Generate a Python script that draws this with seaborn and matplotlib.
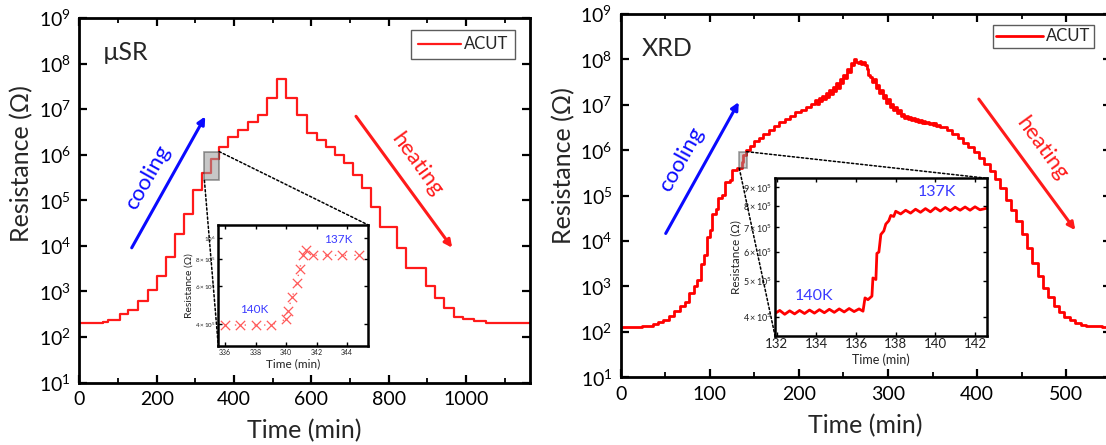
import numpy as np
import pandas as pd
import matplotlib
matplotlib.use("Agg")
import matplotlib.pyplot as plt
import seaborn as sns
from matplotlib.patches import Rectangle, ConnectionPatch
from matplotlib.ticker import (LogFormatterMathtext, MultipleLocator,
                               FixedLocator, FixedFormatter, NullLocator, NullFormatter)

# ---------------- data ----------------
# muSR panel: step levels (time in min where each level starts, resistance in Ohm)
musr_time = [0, 20, 40, 60, 75, 105, 127, 153, 177, 200, 223.5, 247.6, 271.7, 295, 318,
             340.5, 361.5, 385.6, 411, 435.6, 461, 485, 511, 535, 564, 588, 614, 638,
             661, 683, 707, 730, 754, 778, 821, 845, 897, 920, 943, 969, 993,
             1019, 1050, 1090, 1165]
musr_R = [200, 202, 207, 214, 234, 316, 400, 600, 1070, 2140, 5600, 1.82e4, 5.0e4, 1.7e5, 3.95e5,
          8.2e5, 1.5e6, 2.4e6, 3.5e6, 5.1e6, 7.6e6, 1.74e7, 4.5e7, 1.78e7, 7.6e6, 3.0e6, 2.14e6,
          1.48e6, 1.0e6, 6.6e5, 3.6e5, 1.86e5, 7.2e4, 2.6e4, 8.9e3, 3.2e3, 1.29e3, 710, 430, 280,
          245, 219, 204, 200, 200]

# muSR inset: individual points
musr_in_time = [336.0, 337.0, 338.0, 339.0, 340.0, 340.1, 340.4, 340.7, 340.9, 341.1, 341.3,
                341.8, 342.7, 343.7, 344.8]
musr_in_R = [3.95e5, 3.95e5, 3.95e5, 3.95e5, 4.2e5, 4.6e5, 5.3e5, 6.2e5, 7.2e5, 8.3e5, 8.8e5,
             8.3e5, 8.3e5, 8.3e5, 8.3e5]

# XRD panel: time (min) and log10 of resistance (Ohm)
xrd_time = [0, 10, 18, 24, 30, 36, 42, 48, 54, 60, 66, 72, 77, 82, 86, 90, 93, 97, 100, 103,
            107, 109, 114, 117, 123, 125, 130, 136.5, 137.2, 141, 145, 150, 155, 160, 166, 172,
            178, 184, 190, 196, 202, 208, 214,
            218, 220, 222, 224, 226, 228, 230, 232, 234, 236, 238, 240, 242, 244, 246, 248, 250,
            252, 254, 256, 258, 260, 262, 264, 266, 268, 270, 272, 274, 276, 278, 280, 282, 284,
            286, 288, 290, 292, 294, 296, 298, 300, 302, 304, 306, 308, 310, 312, 314, 316, 318,
            320, 322, 324, 326, 328, 330, 332, 334, 336, 338, 340, 342, 344, 346, 348, 350, 352,
            354, 356, 358, 360, 366, 372, 378, 384, 390, 396, 402, 408, 414,
            420, 426, 432, 438, 444, 450, 456, 462, 468, 474, 480, 486, 492, 498, 504, 510, 516,
            522, 530, 540, 550]
xrd_log10_R = [2.10, 2.10, 2.11, 2.12, 2.14, 2.17, 2.21, 2.27, 2.35, 2.45, 2.57, 2.66, 2.85, 3.00,
               3.15, 3.50, 3.70, 4.10, 4.25, 4.60, 4.70, 4.95, 5.02, 5.30, 5.35, 5.57, 5.60, 5.75,
               5.89, 6.00, 6.10, 6.20, 6.27, 6.35, 6.45, 6.53, 6.62, 6.68, 6.76, 6.84, 6.89, 6.95,
               7.02,
               7.10, 7.02, 7.14, 7.08, 7.20, 7.12, 7.26, 7.18, 7.33, 7.24, 7.40, 7.30, 7.48, 7.38,
               7.56, 7.48, 7.66, 7.58, 7.78, 7.72, 7.92, 7.88, 8.02, 7.95, 7.92, 7.96, 7.90, 7.94,
               7.88, 7.78, 7.66, 7.62, 7.50, 7.56, 7.38, 7.44, 7.26, 7.32, 7.15, 7.22, 7.04, 7.12,
               6.96, 7.02, 6.88, 6.95, 6.82, 6.88, 6.76, 6.80, 6.72, 6.75,
               6.68, 6.73, 6.66, 6.71, 6.64, 6.69, 6.62, 6.67, 6.61, 6.65, 6.60, 6.63, 6.58,
               6.61, 6.56, 6.59, 6.54, 6.56, 6.51, 6.52, 6.44, 6.36, 6.27, 6.17, 6.07, 5.96, 5.84,
               5.70, 5.55, 5.36, 5.17, 4.90, 4.68, 4.45, 4.16, 3.85, 3.52, 3.22, 2.96, 2.76, 2.58,
               2.43, 2.33, 2.26, 2.20, 2.16, 2.13, 2.12, 2.11, 2.11]

# XRD inset: time (min), resistance in units of 1e5 Ohm
xrd_in_time = [131.9, 132.15, 132.4, 132.65, 132.9, 133.15, 133.4, 133.65, 133.9, 134.15, 134.4,
               134.65, 134.9, 135.15, 135.4, 135.65, 135.9, 136.15, 136.35, 136.45, 136.6, 136.8,
               136.85, 137.0, 137.05, 137.15, 137.25, 137.4, 137.5, 137.65, 137.75, 137.9, 138.0,
               138.25, 138.5, 138.75, 139.0, 139.25, 139.5, 139.75, 140.0, 140.25, 140.5, 140.75,
               141.0, 141.25, 141.5, 141.75, 142.0, 142.25, 142.6]
xrd_in_R_1e5 = [4.08, 4.16, 4.06, 4.15, 4.07, 4.16, 4.08, 4.17, 4.09, 4.18, 4.10, 4.19, 4.11, 4.20,
                4.12, 4.21, 4.13, 4.20, 4.14, 4.50, 4.45, 4.55, 5.10, 5.05, 5.95, 6.00, 6.70, 6.85,
                7.15, 7.30, 7.55, 7.50, 7.75, 7.62, 7.80, 7.66, 7.85, 7.70, 7.88, 7.72, 7.92, 7.76,
                7.94, 7.78, 7.95, 7.80, 7.96, 7.80, 7.97, 7.82, 7.90]

main_yticks = [1e1, 1e2, 1e3, 1e4, 1e5, 1e6, 1e7, 1e8, 1e9]
musr_in_xticks = [336, 338, 340, 342, 344]
musr_in_yticks = [4e5, 6e5, 8e5, 1e6]
musr_in_ylabels = [r'$4\times10^{5}$', r'$6\times10^{5}$', r'$8\times10^{5}$', r'$10^{6}$']
xrd_in_xticks = [132, 134, 136, 138, 140, 142]
xrd_in_yticks = [4e5, 5e5, 6e5, 7e5, 8e5, 9e5]
xrd_in_ylabels = [r'$4\times10^{5}$', r'$5\times10^{5}$', r'$6\times10^{5}$',
                  r'$7\times10^{5}$', r'$8\times10^{5}$', r'$9\times10^{5}$']

# ---------------- style ----------------
sns.set_theme(style="white")
plt.rcParams['font.family'] = ['Lato', 'DejaVu Sans']
plt.rcParams['mathtext.fontset'] = 'custom'
plt.rcParams['mathtext.rm'] = 'Lato'
plt.rcParams['mathtext.it'] = 'Lato:italic'
plt.rcParams['mathtext.bf'] = 'Lato:bold'
plt.rcParams['axes.unicode_minus'] = False

RED = '#ff1a1a'
BLUE = '#0a0aff'
W, H = 1106, 445
fig = plt.figure(figsize=(W / 100, H / 100), dpi=100, facecolor='white')


def px_axes(x0, y0, x1, y1):
    return fig.add_axes([x0 / W, 1 - y1 / H, (x1 - x0) / W, (y1 - y0) / H])


def style_main(ax, xmax, xmajor, xminor, ylab_xy):
    ax.set_yscale('log')
    ax.set_ylim(1e1, 1e9)
    ax.set_xlim(0, xmax)
    ax.yaxis.set_major_locator(FixedLocator(main_yticks))
    ax.yaxis.set_major_formatter(LogFormatterMathtext())
    ax.yaxis.set_minor_locator(NullLocator())
    ax.xaxis.set_major_locator(MultipleLocator(xmajor))
    ax.xaxis.set_minor_locator(MultipleLocator(xminor))
    ax.tick_params(which='both', direction='in', bottom=True, left=True, top=True, right=True,
                   colors='black', labelcolor='black')
    ax.tick_params(which='major', length=6, width=1.6, labelsize=14, pad=6)
    ax.tick_params(which='minor', length=3.5, width=1.3)
    for s in ax.spines.values():
        s.set_visible(True)
        s.set_linewidth(2.0)
        s.set_color('black')
    ax.set_xlabel('Time (min)', fontsize=18, labelpad=8)
    ax.set_ylabel('Resistance (\u03a9)', fontsize=18)
    ax.yaxis.set_label_coords(*ylab_xy)
    ax.set_facecolor('white')


def style_inset(ax, xticks, yticks, ylabels, xlim, ylim, xt_size, yt_size, xl_size, yl_size):
    ax.set_yscale('log')
    ax.set_xlim(*xlim)
    ax.set_ylim(*ylim)
    ax.xaxis.set_major_locator(FixedLocator(xticks))
    ax.xaxis.set_minor_locator(NullLocator())
    ax.yaxis.set_major_locator(FixedLocator(yticks))
    ax.yaxis.set_major_formatter(FixedFormatter(ylabels))
    ax.yaxis.set_minor_locator(NullLocator())
    ax.yaxis.set_minor_formatter(NullFormatter())
    ax.tick_params(which='both', direction='in', bottom=True, left=True, top=True, right=True,
                   length=3, width=1.0, colors='black', labelcolor='#222222', pad=2)
    ax.tick_params(axis='x', labelsize=xt_size)
    ax.tick_params(axis='y', labelsize=yt_size)
    for s in ax.spines.values():
        s.set_visible(True)
        s.set_linewidth(1.8)
        s.set_color('black')
    ax.set_xlabel('Time (min)', fontsize=xl_size, labelpad=2, color='#222222')
    ax.set_ylabel('Resistance (\u03a9)', fontsize=yl_size, labelpad=1, color='#222222')
    ax.set_facecolor('white')


# ---------------- left panel (muSR) ----------------
ax1 = px_axes(79.3, 18, 530, 382.5)
df_musr = pd.DataFrame({'Time (min)': musr_time, 'Resistance': musr_R})
sns.lineplot(data=df_musr, x='Time (min)', y='Resistance', ax=ax1, color=RED, lw=1.6,
             drawstyle='steps-post', estimator=None, sort=False, label='ACUT')
style_main(ax1, 1165, 200, 100, (-0.103, 0.60))
leg = ax1.legend(loc='upper right', bbox_to_anchor=(0.967, 0.967), borderaxespad=0,
                 fontsize=12, frameon=True, fancybox=False, edgecolor='#333333',
                 handlelength=2.6, handletextpad=0.2, borderpad=0.38)
leg.get_frame().set_linewidth(1.0)
ax1.text(0.053, 0.905, '\u00b5SR', transform=ax1.transAxes, fontsize=18, va='center', ha='left')

ax1.annotate('', xy=(329, 7.8e6), xytext=(132, 8.0e3),
             arrowprops=dict(arrowstyle='-|>', color=BLUE, lw=2.2, mutation_scale=11))
ax1.text(178, 3.1e5, 'cooling', rotation=60.5, color=BLUE, fontsize=16,
         ha='center', va='center', rotation_mode='anchor')
ax1.annotate('', xy=(968, 8.1e3), xytext=(711, 7.8e6),
             arrowprops=dict(arrowstyle='-|>', color=RED, lw=2.2, mutation_scale=11))
ax1.text(873, 6.0e5, 'heating', rotation=-54, color=RED, fontsize=16,
         ha='center', va='center', rotation_mode='anchor')

box1 = (323.4, 2.72e5, 361.5, 1.17e6)
ax1.add_patch(Rectangle((box1[0], box1[1]), box1[2] - box1[0], box1[3] - box1[1],
                        facecolor='#9a9a9a', alpha=0.55, edgecolor='#444444', lw=1.2, zorder=3))

axi1 = px_axes(218.3, 225, 368.3, 346)
df_mi = pd.DataFrame({'Time (min)': musr_in_time, 'Resistance': musr_in_R})
sns.lineplot(data=df_mi, x='Time (min)', y='Resistance', ax=axi1, color='#ff6060',
             lw=1.0, linestyle=(0, (1, 6)), estimator=None, sort=False, legend=False)
sns.scatterplot(data=df_mi, x='Time (min)', y='Resistance', ax=axi1, marker='x', s=45,
                color='#ff5a5a', linewidth=0.9, legend=False)
style_inset(axi1, musr_in_xticks, musr_in_yticks, musr_in_ylabels, (335.55, 345.4),
            (3.16e5, 1.146e6), 5, 4.5, 8.5, 7.5)
axi1.text(337.9, 4.65e5, '140K', color='#3a3aff', fontsize=8.5, ha='center', va='center')
axi1.text(343.4, 9.8e5, '137K', color='#3a3aff', fontsize=8.5, ha='center', va='center')

for (xa, ya), (xb, yb) in [((box1[0], box1[1]), (0, 0)), ((box1[2], box1[3]), (1, 1))]:
    con = ConnectionPatch(xyA=(xa, ya), coordsA=ax1.transData, xyB=(xb, yb),
                          coordsB=axi1.transAxes, linestyle=(0, (1.5, 1.5)), color='black', lw=1.1)
    fig.add_artist(con)

# ---------------- right panel (XRD) ----------------
ax2 = px_axes(620.7, 14, 1110.8, 377.3)
df_xrd = pd.DataFrame({'Time (min)': xrd_time, 'Resistance': 10 ** np.array(xrd_log10_R)})
sns.lineplot(data=df_xrd, x='Time (min)', y='Resistance', ax=ax2, color='#ff0000', lw=2.0,
             drawstyle='steps-post', estimator=None, sort=False, label='ACUT')
style_main(ax2, 550, 100, 50, (-0.093, 0.584))
leg2 = ax2.legend(loc='upper right', bbox_to_anchor=(0.9657, 0.9697), borderaxespad=0,
                  fontsize=12, frameon=True, fancybox=False, edgecolor='#333333',
                  handlelength=2.8, handletextpad=0.2, borderpad=0.2)
leg2.get_frame().set_linewidth(1.0)
ax2.text(0.043, 0.904, 'XRD', transform=ax2.transAxes, fontsize=18, va='center', ha='left')

ax2.annotate('', xy=(134, 1.3e7), xytext=(49, 1.3e4),
             arrowprops=dict(arrowstyle='-|>', color=BLUE, lw=2.2, mutation_scale=11))
ax2.text(68.5, 6.2e5, 'cooling', rotation=61, color=BLUE, fontsize=16,
         ha='center', va='center', rotation_mode='anchor')
ax2.annotate('', xy=(512, 1.55e4), xytext=(400, 1.5e7),
             arrowprops=dict(arrowstyle='-|>', color=RED, lw=2.2, mutation_scale=11))
ax2.text(472.5, 1.1e6, 'heating', rotation=-54, color=RED, fontsize=16,
         ha='center', va='center', rotation_mode='anchor')

box2 = (133.1, 4.0e5, 141.4, 9.3e5)
ax2.add_patch(Rectangle((box2[0], box2[1]), box2[2] - box2[0], box2[3] - box2[1],
                        facecolor='#9a9a9a', alpha=0.5, edgecolor='#444444', lw=1.2, zorder=3))

axi2 = px_axes(775, 178.3, 987.3, 335.7)
df_xi = pd.DataFrame({'Time (min)': xrd_in_time, 'Resistance': np.array(xrd_in_R_1e5) * 1e5})
sns.lineplot(data=df_xi, x='Time (min)', y='Resistance', ax=axi2, color='#ff0000', lw=2.0,
             estimator=None, sort=False, legend=False)
style_inset(axi2, xrd_in_xticks, xrd_in_yticks, xrd_in_ylabels, (131.91, 142.62),
            (3.55e5, 9.53e5), 9.5, 6.5, 9, 8.5)
axi2.text(133.9, 4.55e5, '140K', color='#3a3aff', fontsize=11.5, ha='center', va='center')
axi2.text(140.1, 8.75e5, '137K', color='#3a3aff', fontsize=11.5, ha='center', va='center')

for (xa, ya), (xb, yb) in [((box2[0], box2[1]), (0, 0)), ((box2[2], box2[3]), (1, 1))]:
    con = ConnectionPatch(xyA=(xa, ya), coordsA=ax2.transData, xyB=(xb, yb),
                          coordsB=axi2.transAxes, linestyle=(0, (1.5, 1.5)), color='black', lw=1.1)
    fig.add_artist(con)

fig.savefig('out.png', dpi=100, facecolor='white')
